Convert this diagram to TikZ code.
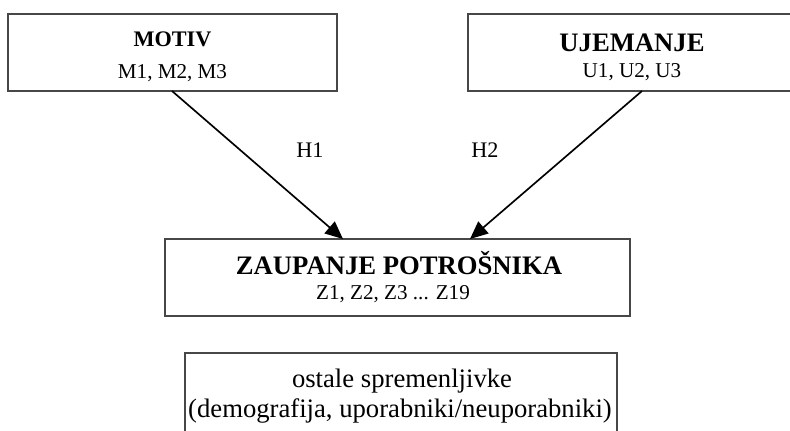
\documentclass[tikz,border=0pt]{standalone}
\usepackage{fontspec}
\setmainfont{Liberation Serif}
\usetikzlibrary{arrows.meta}
\begin{document}
\begin{tikzpicture}[x=0.45pt,y=-0.45pt,
  box/.style={draw=black!72,line width=0.75pt,rectangle,inner sep=0pt},
  txt/.style={anchor=base,inner sep=0pt},
  arr/.style={line width=0.75pt,-{Triangle[length=8pt,width=7pt]}}]
\useasboundingbox (0,0) rectangle (790,431);
\clip (0,0) rectangle (790,431);
% boxes
\node[box,minimum width=329*0.45pt,minimum height=77*0.45pt] (motiv) at (172.5,52.5) {};
\node[box,minimum width=329*0.45pt,minimum height=77*0.45pt] (ujem) at (632.5,52.5) {};
\node[box,minimum width=465*0.45pt,minimum height=77*0.45pt] (zaup) at (397.5,277.5) {};
\node[box,minimum width=432*0.45pt,minimum height=120*0.45pt] (ostale) at (401,413) {};
% texts
\node[txt,font=\fontsize{10}{12}\selectfont\bfseries] (t1) at (172.5,47) {MOTIV};
\node[txt,font=\fontsize{9.5}{12}\selectfont] (t1b) at (172.5,79) {M1, M2, M3};
\node[txt,font=\fontsize{12}{14}\selectfont\bfseries] (t2) at (632,52) {UJEMANJE};
\node[txt,font=\fontsize{9.5}{12}\selectfont] (t2b) at (632,78) {U1, U2, U3};
\node[txt,font=\fontsize{12}{14}\selectfont\bfseries] (t3) at (399,275) {ZAUPANJE POTROŠNIKA};
\node[txt,font=\fontsize{9.5}{12}\selectfont] (t3b) at (393,300) {Z1, Z2, Z3 ... Z19};
\node[txt,font=\fontsize{12}{14}\selectfont] (t4) at (402,388) {ostale spremenljivke};
\node[txt,font=\fontsize{12}{14}\selectfont] (t4b) at (400,418) {(demografija, uporabniki/neuporabniki)};
% arrows
\coordinate (a1s) at (172,91);
\coordinate (a1e) at (343,239);
\coordinate (a2s) at (642,91);
\coordinate (a2e) at (470,239);
\draw[arr] (a1s) -- (a1e);
\draw[arr] (a2s) -- (a2e);
\node[font=\fontsize{10}{12}\selectfont,inner sep=0pt] (h1) at (310,150) {H1};
\node[font=\fontsize{10}{12}\selectfont,inner sep=0pt] (h2) at (485,150) {H2};
\end{tikzpicture}
\end{document}
